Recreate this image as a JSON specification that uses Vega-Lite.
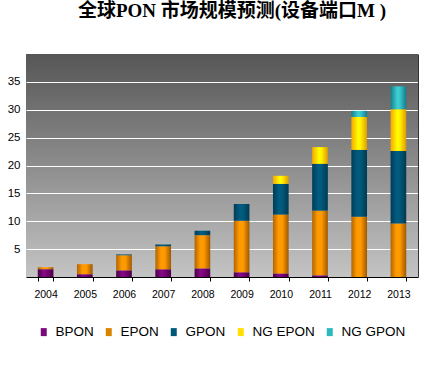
{
  "$schema": "https://vega.github.io/schema/vega-lite/v6.json",
  "width": 392,
  "height": 223,
  "autosize": {"type": "none"},
  "padding": {"left": 26, "top": 54, "right": 28, "bottom": 98},
  "background": "white",
  "title": {
    "text": "全球PON 市场规模预测(设备端口M )",
    "font": "Liberation Serif, Noto Sans CJK SC",
    "fontSize": 19,
    "fontWeight": "bold",
    "color": "black",
    "anchor": "middle",
    "offset": 33,
    "dx": 10
  },
  "data": {
    "values": [
      {"year": "2004", "series": "BPON", "value": 1.4},
      {"year": "2004", "series": "EPON", "value": 0.35},
      {"year": "2005", "series": "BPON", "value": 0.5},
      {"year": "2005", "series": "EPON", "value": 1.8},
      {"year": "2006", "series": "BPON", "value": 1.2},
      {"year": "2006", "series": "EPON", "value": 2.7},
      {"year": "2006", "series": "GPON", "value": 0.15},
      {"year": "2007", "series": "BPON", "value": 1.4},
      {"year": "2007", "series": "EPON", "value": 4.1},
      {"year": "2007", "series": "GPON", "value": 0.35},
      {"year": "2008", "series": "BPON", "value": 1.55},
      {"year": "2008", "series": "EPON", "value": 5.95},
      {"year": "2008", "series": "GPON", "value": 0.8},
      {"year": "2009", "series": "BPON", "value": 0.85},
      {"year": "2009", "series": "EPON", "value": 9.25},
      {"year": "2009", "series": "GPON", "value": 3.0},
      {"year": "2010", "series": "BPON", "value": 0.65},
      {"year": "2010", "series": "EPON", "value": 10.55},
      {"year": "2010", "series": "GPON", "value": 5.5},
      {"year": "2010", "series": "NG EPON", "value": 1.45},
      {"year": "2011", "series": "BPON", "value": 0.3},
      {"year": "2011", "series": "EPON", "value": 11.6},
      {"year": "2011", "series": "GPON", "value": 8.4},
      {"year": "2011", "series": "NG EPON", "value": 3.0},
      {"year": "2012", "series": "EPON", "value": 10.8},
      {"year": "2012", "series": "GPON", "value": 12.0},
      {"year": "2012", "series": "NG EPON", "value": 5.9},
      {"year": "2012", "series": "NG GPON", "value": 1.1},
      {"year": "2013", "series": "EPON", "value": 9.6},
      {"year": "2013", "series": "GPON", "value": 13.0},
      {"year": "2013", "series": "NG EPON", "value": 7.5},
      {"year": "2013", "series": "NG GPON", "value": 4.1}
    ]
  },
  "layer": [
    {
      "mark": {"type": "bar", "strokeWidth": 0},
      "encoding": {
        "x": {
          "field": "year",
          "type": "ordinal",
          "scale": {"paddingInner": 0.6, "paddingOuter": 0.3},
          "axis": {
            "title": null,
            "labelAngle": 0,
            "tickBand": "extent",
            "domainColor": "black",
            "tickColor": "black",
            "tickSize": 4,
            "labelPadding": 8,
            "labelFont": "Liberation Sans",
            "labelFontSize": 10.5,
            "labelColor": "black"
          }
        },
        "y": {
          "field": "value",
          "type": "quantitative",
          "stack": "zero",
          "scale": {"domain": [0, 40], "nice": false},
          "axis": {
            "title": null,
            "values": [5, 10, 15, 20, 25, 30, 35],
            "domain": false,
            "ticks": false,
            "gridColor": "white",
            "gridOpacity": 1,
            "gridWidth": 1,
            "labelPadding": 6,
            "labelFont": "Liberation Sans",
            "labelFontSize": 11.5,
            "labelColor": "black"
          }
        },
        "detail": {"field": "series", "type": "nominal"},
        "fill": {
          "condition": [
            {"test": "datum.series === 'BPON'", "value": {"gradient": "linear", "x1": 0, "y1": 0, "x2": 1, "y2": 0, "stops": [
              {"offset": 0, "color": "#4a0048"}, {"offset": 0.4, "color": "#860a86"}, {"offset": 0.6, "color": "#7a0078"}, {"offset": 1, "color": "#480046"}]}},
            {"test": "datum.series === 'EPON'", "value": {"gradient": "linear", "x1": 0, "y1": 0, "x2": 1, "y2": 0, "stops": [
              {"offset": 0, "color": "#b06400"}, {"offset": 0.35, "color": "#ff9a00"}, {"offset": 0.6, "color": "#ff9900"}, {"offset": 1, "color": "#9c5800"}]}},
            {"test": "datum.series === 'GPON'", "value": {"gradient": "linear", "x1": 0, "y1": 0, "x2": 1, "y2": 0, "stops": [
              {"offset": 0, "color": "#003c58"}, {"offset": 0.4, "color": "#005d82"}, {"offset": 0.6, "color": "#005878"}, {"offset": 1, "color": "#003a54"}]}},
            {"test": "datum.series === 'NG EPON'", "value": {"gradient": "linear", "x1": 0, "y1": 0, "x2": 1, "y2": 0, "stops": [
              {"offset": 0, "color": "#f5a800"}, {"offset": 0.45, "color": "#ffff00"}, {"offset": 0.6, "color": "#fff000"}, {"offset": 1, "color": "#e09a00"}]}}
          ],
          "value": {"gradient": "linear", "x1": 0, "y1": 0, "x2": 1, "y2": 0, "stops": [
            {"offset": 0, "color": "#16808e"}, {"offset": 0.45, "color": "#40d0d4"}, {"offset": 0.6, "color": "#38c4cc"}, {"offset": 1, "color": "#157c8a"}]}
        },
        "order": {"field": "series", "sort": "ascending"}
      }
    },
    {
      "mark": {"type": "bar", "strokeWidth": 0},
      "encoding": {
        "x": {"field": "year", "type": "ordinal"},
        "y": {"datum": 0, "type": "quantitative", "axis": null},
        "color": {
          "field": "series",
          "type": "nominal",
          "scale": {
            "domain": ["BPON", "EPON", "GPON", "NG EPON", "NG GPON"],
            "range": ["#7a0a7a", "#d98400", "#005878", "#ffe000", "#2cb8c0"]
          },
          "legend": {
            "orient": "none",
            "legendX": 11,
            "legendY": 271,
            "direction": "horizontal",
            "title": null,
            "symbolType": "M-0.75,-1H0.75V1H-0.75Z",
            "symbolSize": 64,
            "symbolStrokeWidth": 0,
            "labelFont": "Liberation Sans",
            "labelFontSize": 13.5,
            "labelColor": "black",
            "labelOffset": 5,
            "columnPadding": 8,
            "padding": 0
          }
        }
      }
    },
    {
      "mark": {"type": "rule", "opacity": 0},
      "encoding": {
        "y": {
          "datum": 0,
          "type": "quantitative",
          "axis": {
            "orient": "right",
            "title": null,
            "labels": false,
            "ticks": false,
            "grid": false,
            "domainColor": "#333333"
          }
        }
      }
    }
  ],
  "resolve": {"axis": {"y": "independent"}},
  "config": {
    "view": {
      "stroke": null,
      "fill": {"gradient": "linear", "x1": 0, "y1": 0, "x2": 0, "y2": 1, "stops": [
        {"offset": 0, "color": "#565656"}, {"offset": 1, "color": "#c4c4c4"}]}
    }
  }
}
